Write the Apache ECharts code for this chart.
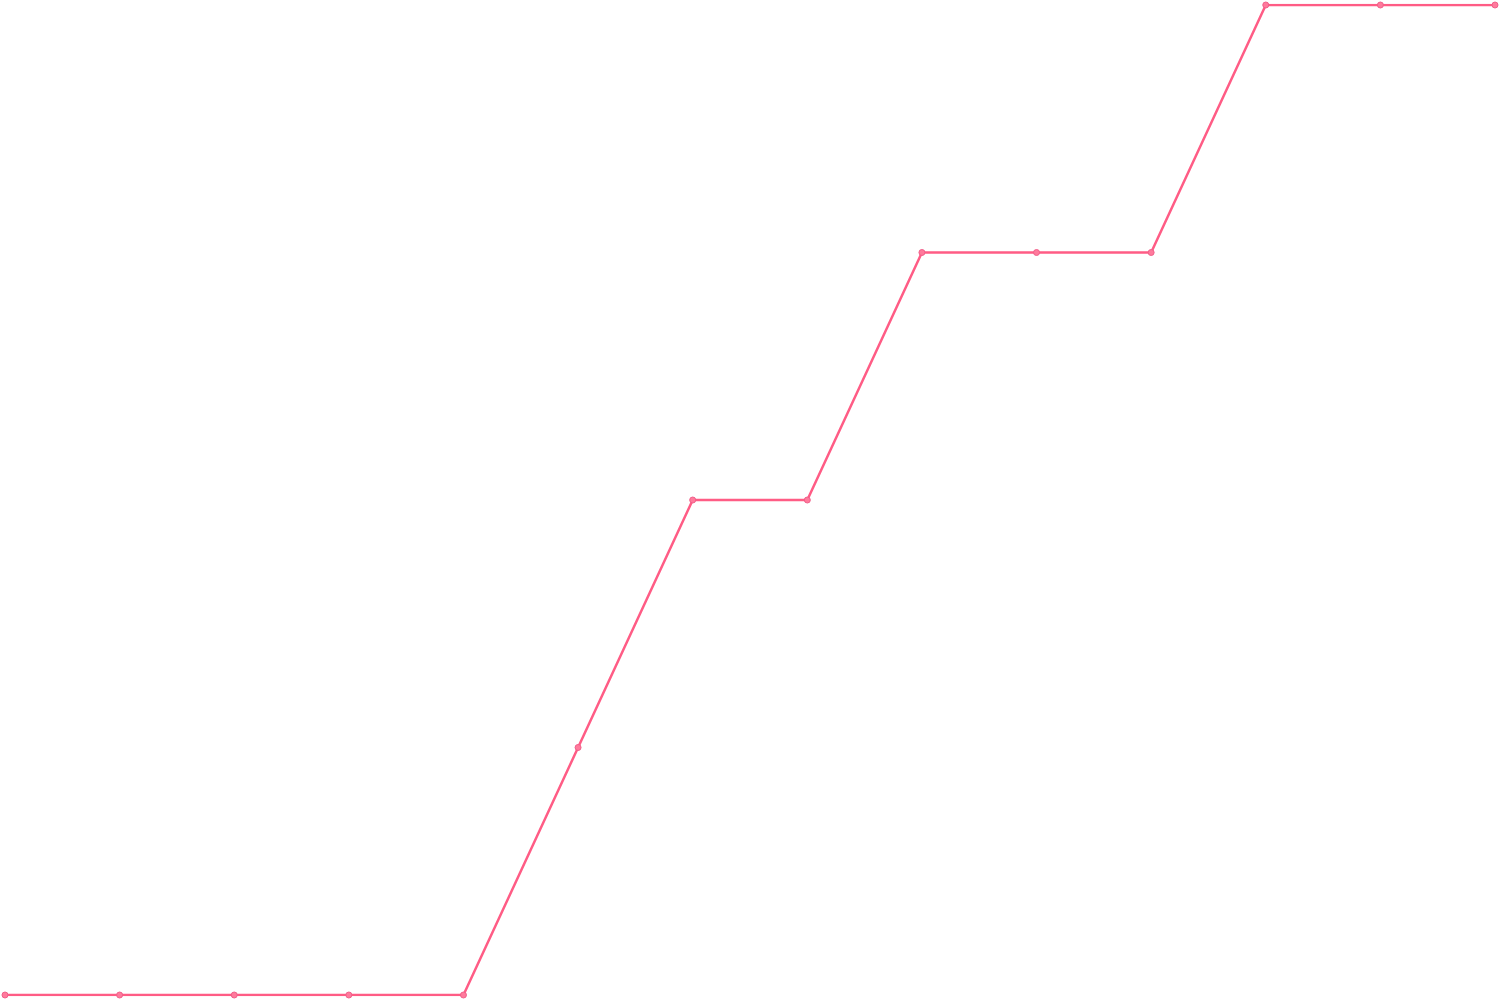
<!DOCTYPE html>
<html><head><meta charset="utf-8">
<script src="https://cdn.jsdelivr.net/npm/echarts@6/dist/echarts.min.js"></script>
<style>html,body{margin:0;padding:0;background:#fff}#c{width:1500px;height:1000px}</style>
</head><body><div id="c"></div>
<script>
const categories = ['1','2','3','4','5','6','7','8','9','10','11','12','13','14'];
const values = [0,0,0,0,0,1,2,2,3,3,3,4,4,4];
const chart = echarts.init(document.getElementById('c'));
chart.setOption({
  animation:false,
  grid:{left:5,right:5,top:5,bottom:5},
  xAxis:{type:'category',data:categories,boundaryGap:false,show:false},
  yAxis:{type:'value',min:0,max:4,show:false},
  series:[{type:'line',data:values,symbol:'circle',symbolSize:6,
    lineStyle:{color:'#ff5c85',width:2.5},
    itemStyle:{color:'#ff7a9c',borderColor:'#f0608a',borderWidth:1}}]
});
</script></body></html>
